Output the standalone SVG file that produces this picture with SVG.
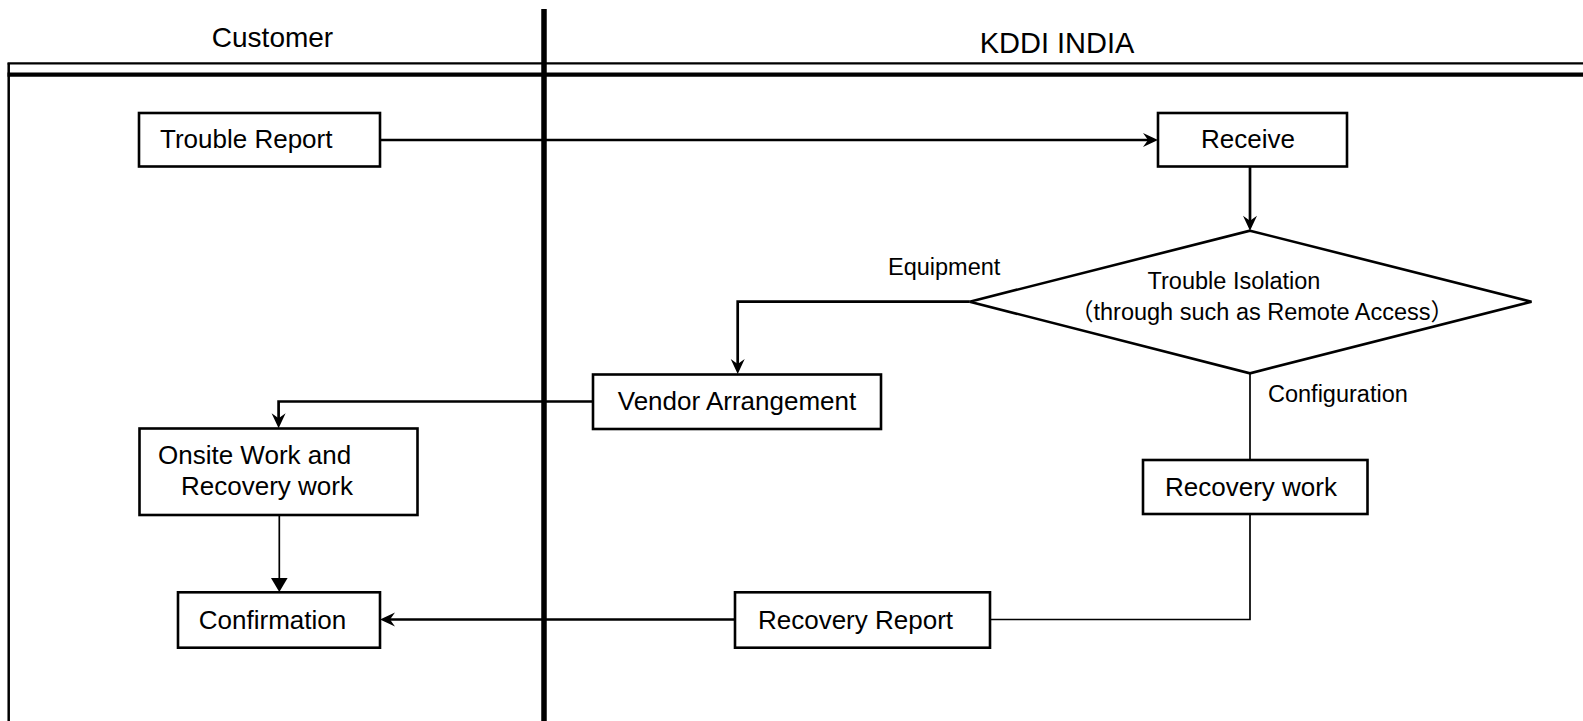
<svg xmlns="http://www.w3.org/2000/svg" width="1583" height="721" viewBox="0 0 1583 721">
<style>
  .box { fill: #fff; stroke: #000; stroke-width: 2.6; }
  .t { font-family: "Liberation Sans", Arial, "Noto Sans CJK JP", sans-serif; fill: #000; }
  .lbl { font-size: 26px; }
  .small { font-size: 23.5px; }
  .conn { fill: none; stroke: #000; stroke-width: 2.7; }
  .thin { fill: none; stroke: #000; stroke-width: 1.7; }
  .frame { fill: none; stroke: #000; }
</style>
<defs>
  <marker id="stealth" viewBox="-16 -8 17 16" refX="-4" refY="0" markerWidth="17" markerHeight="16" orient="auto" markerUnits="userSpaceOnUse">
    <path d="M0,0 L-15,-7 L-10,0 L-15,7 Z" fill="#000"/>
  </marker>
  <marker id="tri" viewBox="-16 -9 17 18" refX="-4" refY="0" markerWidth="17" markerHeight="18" orient="auto" markerUnits="userSpaceOnUse">
    <path d="M0,0 L-14,-8.3 L-14,8.3 Z" fill="#000"/>
  </marker>
</defs>
<rect x="0" y="0" width="1583" height="721" fill="#fff"/>

<g id="lanes">
  <line class="frame" x1="8.7" y1="63.3" x2="8.7" y2="721" stroke-width="2.5"/>
  <line class="frame" x1="7.5" y1="63.3" x2="1583" y2="63.3" stroke-width="2.2"/>
  <line class="frame" x1="7.5" y1="74.7" x2="1583" y2="74.7" stroke-width="4.2"/>
  <line class="frame" x1="544" y1="9" x2="544" y2="721" stroke-width="5.5"/>
  <text class="t" x="272.5" y="47" font-size="28" text-anchor="middle">Customer</text>
  <text class="t" x="1057" y="53" font-size="29" text-anchor="middle">KDDI INDIA</text>
</g>

<g id="connectors">
  <line class="conn" x1="380" y1="140" x2="1154" y2="140" marker-end="url(#stealth)"/>
  <line class="conn" x1="1250" y1="167" x2="1250" y2="226.7" marker-end="url(#stealth)"/>
  <polyline class="conn" points="969.7,301.7 737.7,301.7 737.7,370" marker-end="url(#stealth)"/>
  <polyline class="conn" points="592,401.5 278.6,401.5 278.6,424.3" marker-end="url(#stealth)"/>
  <line class="thin" x1="279.3" y1="515" x2="279.3" y2="588" marker-end="url(#tri)"/>
  <line class="thin" x1="1250" y1="373.3" x2="1250" y2="460" stroke-width="2"/>
  <polyline class="thin" points="1250,514 1250,619.5 990,619.5" stroke-width="2"/>
  <line class="conn" x1="735" y1="619.5" x2="384" y2="619.5" marker-end="url(#stealth)"/>
</g>

<g id="trouble-report">
  <rect class="box" x="139" y="113" width="241" height="53.5"/>
  <text class="t lbl" x="160" y="148">Trouble Report</text>
</g>

<g id="receive">
  <rect class="box" x="1158" y="113" width="189" height="53.5"/>
  <text class="t lbl" x="1248" y="148" text-anchor="middle">Receive</text>
</g>

<g id="trouble-isolation">
  <polygon class="box" points="1250,230.7 1531.5,301.7 1250,373.3 969.7,301.7"/>
  <text class="t small" x="1234" y="289" text-anchor="middle">Trouble Isolation</text>
  <text class="t small" x="1262" y="320" text-anchor="middle">（through such as Remote Access）</text>
</g>

<g id="label-equipment">
  <text class="t small" x="888" y="275">Equipment</text>
</g>

<g id="label-configuration">
  <text class="t small" x="1268" y="401.5">Configuration</text>
</g>

<g id="vendor-arrangement">
  <rect class="box" x="593" y="374.5" width="288" height="54.5"/>
  <text class="t lbl" x="737" y="410" text-anchor="middle">Vendor Arrangement</text>
</g>

<g id="onsite-work">
  <rect class="box" x="139.5" y="428.5" width="278" height="86.5"/>
  <text class="t lbl" x="158" y="464">Onsite Work and</text>
  <text class="t lbl" x="181" y="495">Recovery work</text>
</g>

<g id="recovery-work">
  <rect class="box" x="1143" y="460" width="224.5" height="54"/>
  <text class="t lbl" x="1251" y="496" text-anchor="middle">Recovery work</text>
</g>

<g id="confirmation">
  <rect class="box" x="178" y="592.3" width="202" height="55.4"/>
  <text class="t lbl" x="272.5" y="629" text-anchor="middle">Confirmation</text>
</g>

<g id="recovery-report">
  <rect class="box" x="735" y="592.3" width="255" height="55.4"/>
  <text class="t lbl" x="855.5" y="629" text-anchor="middle">Recovery Report</text>
</g>
</svg>
